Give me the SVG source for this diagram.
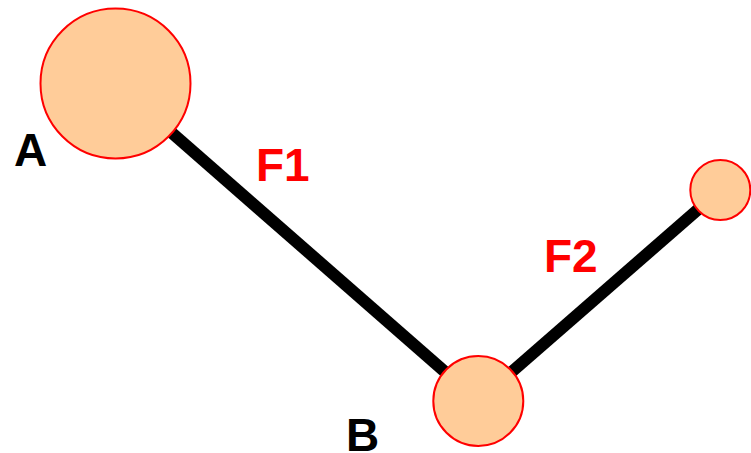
<svg xmlns="http://www.w3.org/2000/svg" width="751" height="453" viewBox="0 0 751 453">
<style>
.node{fill:#FFCC99;stroke:#FF0000;stroke-width:2}
.conn{stroke:#000;stroke-width:12;fill:none}
.lbl{font-family:"Liberation Sans",Arial,sans-serif;font-weight:bold;font-size:46px}
.red{fill:#FF0000}
</style>
<rect width="751" height="453" fill="#fff"/>
<g id="connectors">
<line class="conn" x1="115.5" y1="83.5" x2="478.3" y2="401"/>
<line class="conn" x1="478.3" y1="401" x2="720.3" y2="190"/>
<text class="lbl red" x="256" y="181" font-size="48">F1</text>
<text class="lbl red" x="544" y="272">F2</text>
</g>
<g id="nodeA">
<circle class="node" cx="115.5" cy="83.5" r="75"/>
<text class="lbl" x="14" y="166">A</text>
</g>
<g id="nodeB">
<circle class="node" cx="478.3" cy="401" r="45"/>
<text class="lbl" x="346" y="451">B</text>
</g>
<g id="nodeC">
<circle class="node" cx="720.3" cy="190" r="30"/>
</g>
</svg>
